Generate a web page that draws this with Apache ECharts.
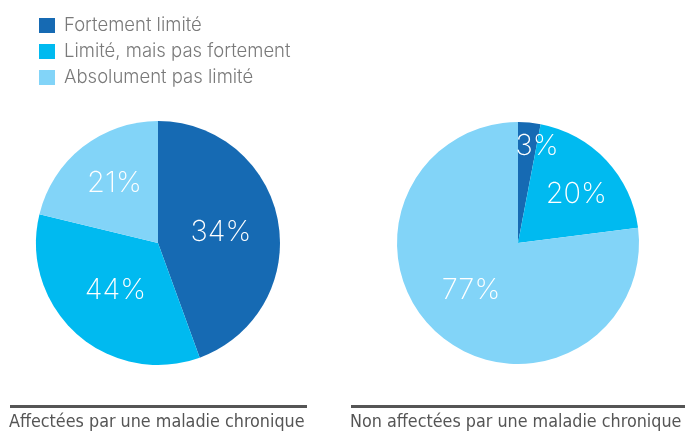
<!DOCTYPE html>
<html>
<head>
<meta charset="utf-8">
<script src="https://cdn.jsdelivr.net/npm/echarts@6/dist/echarts.min.js"></script>
<style>
  html, body { margin: 0; padding: 0; background: #fff; }
  #chart { width: 688px; height: 442px; }
</style>
</head>
<body>
<div id="chart"></div>
<script>
// categories (legend order)
var categories = ['Fortement limité', 'Limité, mais pas fortement', 'Absolument pas limité'];
var colors = ['#166ab3', '#00baf0', '#82d4f8'];

// slice sizes as drawn in the picture, and the labels printed on them
var leftValues = [44, 34, 21];
var leftLabels = ['34%', '44%', '21%'];
var rightValues = [3, 20, 77];
var rightLabels = ['3%', '20%', '77%'];

var groupTitles = ['Affectées par une maladie chronique', 'Non affectées par une maladie chronique'];

function makeData(vals, labels) {
    return vals.map(function (v, i) {
        return { name: categories[i], value: v, printed: labels[i] };
    });
}

// small nudges of the printed labels, per slice
var leftNudge = [[0, 0], [0, 0], [-4, -9]];
var rightNudge = [[13, -34], [12, -5], [-5, 0]];

// pick a condensed face for the titles and size it so the text fits its rule
var titleFont = '"DejaVu Sans Condensed", "Liberation Sans Narrow", sans-serif';
var ctx = document.createElement('canvas').getContext('2d');
ctx.font = '20px ' + titleFont;
var w20 = ctx.measureText(groupTitles[0]).width;
var titleSize = Math.min(22, Math.floor(20 * 297 / w20 * 10) / 10);

var labelStyle = {
    show: true,
    position: 'inside',
    color: '#fff',
    fontSize: 29,
    fontWeight: 200,
    fontFamily: 'Inter, Lato, sans-serif',
    formatter: function (p) { return p.data.printed; }
};

var myChart = echarts.init(document.getElementById('chart'));
var option = {
    color: colors,
    animation: false,
    legend: {
        orient: 'vertical',
        left: 39,
        top: 16,
        padding: 0,
        icon: 'rect',
        itemWidth: 16,
        itemHeight: 15,
        itemGap: 7,
        selectedMode: false,
        data: categories,
        textStyle: {
            color: '#7a7a7a',
            fontSize: 18.5,
            fontWeight: 300,
            fontFamily: 'Inter, Lato, sans-serif',
            padding: [0, 0, 0, 4]
        }
    },
    title: [
        {
            text: groupTitles[0],
            left: 9,
            top: 413,
            padding: 0,
            textStyle: { color: '#555', fontSize: titleSize, fontWeight: 'normal', fontFamily: titleFont }
        },
        {
            text: groupTitles[1],
            left: 350,
            top: 413,
            padding: 0,
            textStyle: { color: '#555', fontSize: titleSize, fontWeight: 'normal', fontFamily: titleFont }
        }
    ],
    graphic: [
        { type: 'rect', shape: { x: 10, y: 405, width: 297, height: 3 }, style: { fill: '#555' } },
        { type: 'rect', shape: { x: 351, y: 405, width: 334, height: 3 }, style: { fill: '#555' } }
    ],
    series: [
        {
            type: 'pie',
            center: [158, 243],
            radius: [0, 122],
            startAngle: 90,
            clockwise: true,
            label: labelStyle,
            labelLine: { show: false },
            itemStyle: { borderWidth: 0 },
            emphasis: { disabled: true },
            labelLayout: function (p) {
                var n = leftNudge[p.dataIndex];
                return { dx: n[0], dy: n[1] };
            },
            data: makeData(leftValues, leftLabels)
        },
        {
            type: 'pie',
            center: [518, 243],
            radius: [0, 121],
            startAngle: 90,
            clockwise: true,
            label: labelStyle,
            labelLine: { show: false },
            itemStyle: { borderWidth: 0 },
            emphasis: { disabled: true },
            labelLayout: function (p) {
                var n = rightNudge[p.dataIndex];
                return { dx: n[0], dy: n[1] };
            },
            data: makeData(rightValues, rightLabels)
        }
    ]
};
myChart.setOption(option);
</script>
</body>
</html>
